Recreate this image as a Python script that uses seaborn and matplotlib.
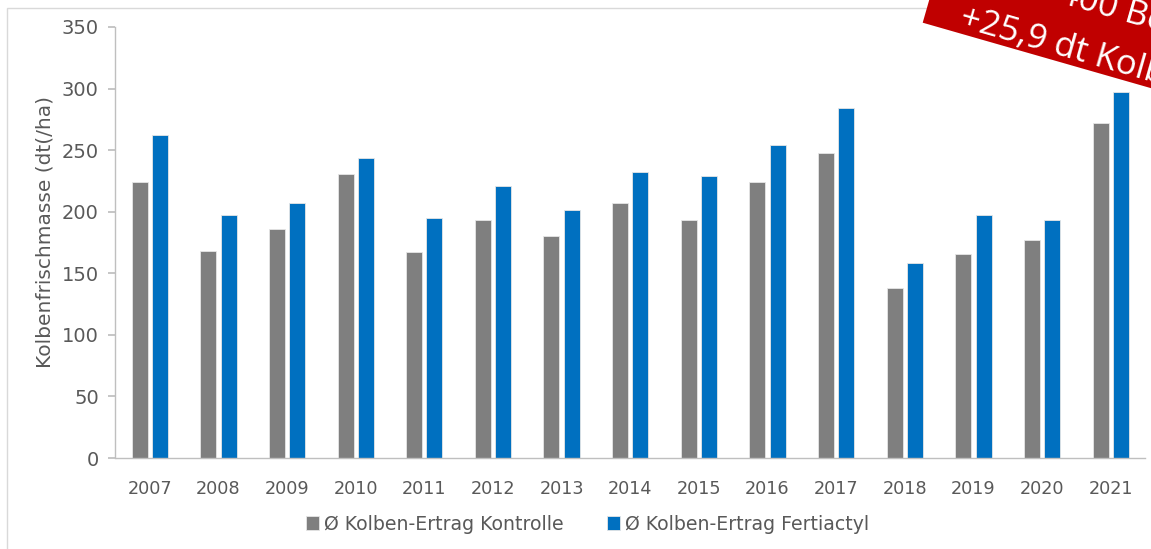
import matplotlib
matplotlib.use("Agg")
import matplotlib.pyplot as plt
import seaborn as sns
import pandas as pd
import numpy as np
from matplotlib.patches import Polygon, Rectangle

years = ["2007", "2008", "2009", "2010", "2011", "2012", "2013", "2014",
         "2015", "2016", "2017", "2018", "2019", "2020", "2021"]
kontrolle = [224, 168, 186, 231, 167, 193, 180, 207, 193, 224, 248, 138, 166, 177, 272]
fertiactyl = [262, 197, 207, 244, 195, 221, 201, 232, 229, 254, 284, 158, 197, 193, 297]
series_names = ["Ø Kolben-Ertrag Kontrolle", "Ø Kolben-Ertrag Fertiactyl"]
colors = ["#7f7f7f", "#0070c0"]
y_ticks = [0, 50, 100, 150, 200, 250, 300, 350]
y_label = "Kolbenfrischmasse (dt(/ha)"
banner_lines = ["400 Betriebe", "+25,9 dt Kolben-Ertrag"]

df = pd.DataFrame({
    "Jahr": years * 2,
    "Wert": kontrolle + fertiactyl,
    "Serie": [series_names[0]] * len(years) + [series_names[1]] * len(years),
})

sns.set_theme(style="white")
plt.rcParams["font.family"] = ["DejaVu Sans"]

W, H = 1151, 549
fig = plt.figure(figsize=(W / 100, H / 100), dpi=100)
ax = fig.add_axes([115.5 / W, 1 - 458 / H, (1145 - 115.5) / W, (458 - 27) / H])

sns.barplot(data=df, x="Jahr", y="Wert", hue="Serie", palette=colors,
            width=0.59, gap=0.21, ax=ax, legend=True,
            edgecolor="#e6e6e6", linewidth=0.6, saturation=1)

ax.set_ylim(0, 350)
ax.set_xlim(-0.5, len(years) - 0.5)
ax.set_yticks(y_ticks)
ax.set_xlabel("")
ax.set_ylabel(y_label, fontsize=14.5, color="#595959")
ax.yaxis.set_label_coords(-0.059, 0.524)
for s in ["top", "right"]:
    ax.spines[s].set_visible(False)
for s in ["left", "bottom"]:
    ax.spines[s].set_color("#bfbfbf")
    ax.spines[s].set_linewidth(1.0)
ax.tick_params(axis="y", left=True, length=5, color="#bfbfbf", labelsize=14,
               labelcolor="#595959", pad=7)
ax.tick_params(axis="x", bottom=False, labelsize=12.7, labelcolor="#595959", pad=10)

handles, labels = ax.get_legend_handles_labels()
ax.get_legend().remove()
fig.legend(handles, labels, loc="center", bbox_to_anchor=(587.5 / W, 1 - 524 / H),
           ncol=2, frameon=False, fontsize=13.6, labelcolor="#595959",
           handlelength=0.7, handleheight=0.7, handletextpad=0.25, columnspacing=2.3)

# outer chart border
fig.patches.append(Rectangle((7.5 / W, -0.1), 1.2, 1 - 8 / H + 0.1,
                             transform=fig.transFigure, fill=False,
                             edgecolor="#d9d9d9", linewidth=1.0))

# rotated red banner (top right)
ang = np.deg2rad(16)
d = np.array([np.cos(ang), -np.sin(ang)])
n = np.array([np.sin(ang), np.cos(ang)])
p0 = np.array([922.7, H - 22.7])
L, T = 500, 130
pts = np.array([p0, p0 + L * d, p0 + L * d + T * n, p0 + T * n])
pts_fig = pts / np.array([W, H])
fig.patches.append(Polygon(pts_fig, closed=True, transform=fig.transFigure,
                           facecolor="#c00000", edgecolor="none"))

fig.text(958 / W, 1 - 26 / H, banner_lines[1], rotation=-16, rotation_mode="anchor",
         ha="left", va="baseline", color="white", fontsize=25,
         family=["Open Sans", "DejaVu Sans"])
fig.text(1057 / W, 1 - 2 / H, banner_lines[0], rotation=-16, rotation_mode="anchor",
         ha="left", va="baseline", color="white", fontsize=25,
         family=["Open Sans", "DejaVu Sans"])

fig.savefig("out.png", dpi=100)
